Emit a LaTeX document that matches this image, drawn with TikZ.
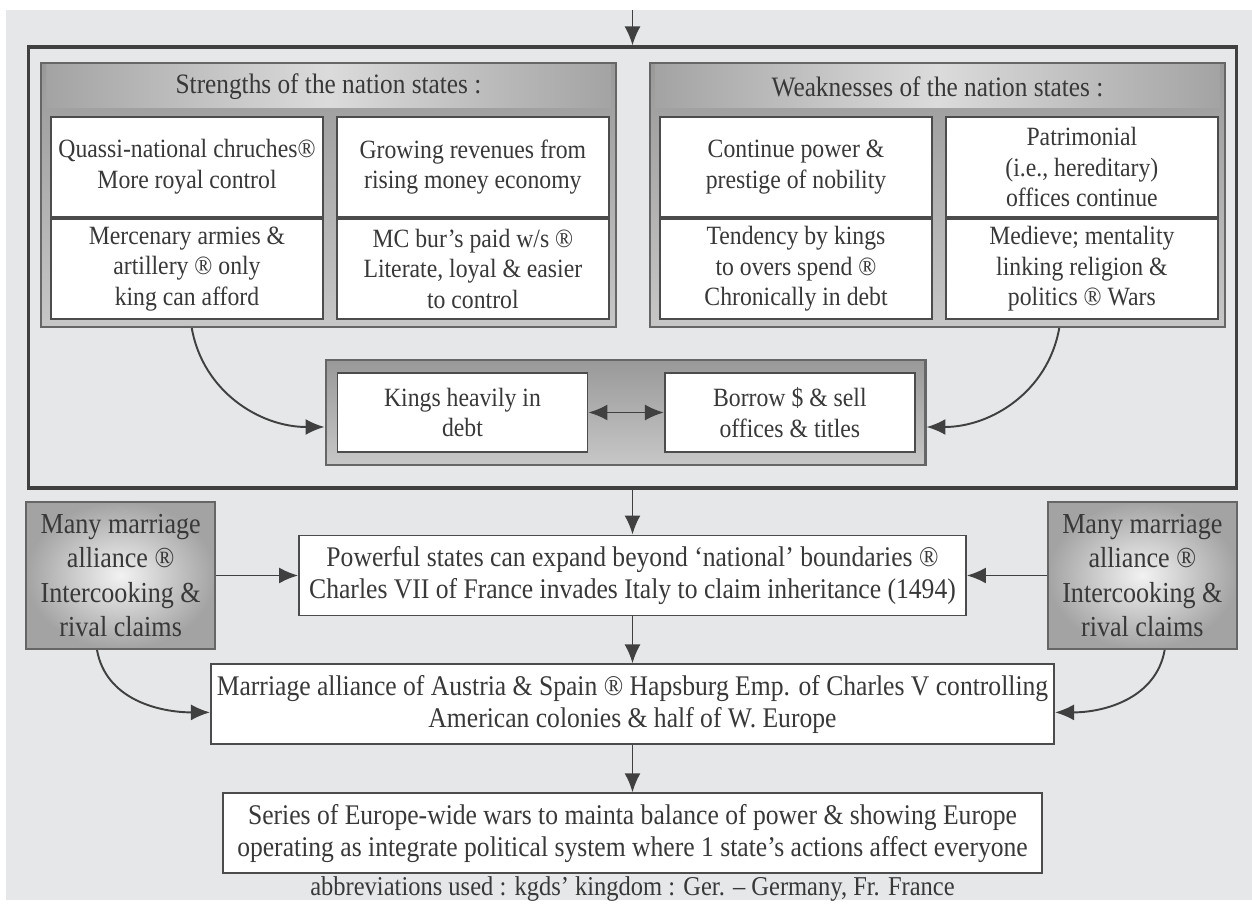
\documentclass[tikz,border=0pt]{standalone}
\usepackage{fontspec}
\setmainfont{Liberation Serif}[FakeStretch=0.9]
\usepackage{xcolor}
\usetikzlibrary{arrows.meta, positioning, calc, shadings}

\definecolor{bgfill}{HTML}{E5E7E9}

\begin{document}
\begin{tikzpicture}[
        x=0.02cm, y=-0.02cm,
        node distance=1cm and 1cm,
        frame/.style={rectangle, draw=black!75, line width=1.8pt},
        panel/.style={rectangle, draw=black!60, line width=1.2pt, top color=black!40, bottom color=black!22, minimum width=11.5cm, minimum height=5.28cm},
        band/.style={rectangle, left color=black!36, right color=black!36, middle color=black!14, minimum width=11.3cm, minimum height=0.86cm, inner sep=0pt, font=\fontsize{16}{18}\selectfont},
        cell/.style={rectangle, draw=black!70, line width=1.1pt, fill=white, minimum width=5.44cm, minimum height=2cm, align=center, inner sep=2pt, font=\fontsize{15}{17.5}\selectfont},
        plainbox/.style={rectangle, draw=black!70, line width=1.1pt, fill=white, minimum height=1.6cm, align=center},
        sidebox/.style={rectangle, draw=black!60, line width=1.1pt, inner color=black!5, outer color=black!36, minimum width=3.78cm, minimum height=2.94cm, align=center, font=\fontsize{16.5}{19.5}\selectfont},
        arrow/.style={-{Latex[length=3.8mm, width=3.2mm]}, line width=1.1pt, draw=black!75},
        dblarrow/.style={{Latex[length=3.8mm, width=3.2mm]}-{Latex[length=3.8mm, width=3.2mm]}, line width=1.1pt, draw=black!75},
        font=\fontsize{16.2}{18}\selectfont,
        text=black!78
    ]

    % Page
    \useasboundingbox (0,0) rectangle (1252,909);
    \fill[white] (0,0) rectangle (1252,909);
    \fill[bgfill] (6,10) rectangle (1252,900);
    \coordinate (entry) at (632.5,10);

    % Upper frame with the two panels
    \node (outer) [frame, minimum width=24.18cm, minimum height=8.82cm] at (632.5,267.5) {};
    \node (strengths) [panel] at (328.5,195) {};
    \node (weaknesses) [panel] at (937.5,195) {};
    \node (str_head) [band, below=0.05cm of strengths.north] {Strengths of the nation states :};
    \node (weak_head) [band, below=0.05cm of weaknesses.north] {Weaknesses of the nation states :};

    \node (str_a) [cell] at (187,167) {Quassi-national chruches®\\More royal control};
    \node (str_b) [cell, right=0.24cm of str_a] {Growing revenues from\\rising money economy};
    \node (str_c) [cell, below=0cm of str_a] {Mercenary armies \&\\artillery ® only\\king can afford};
    \node (str_d) [cell, below=0cm of str_b] {MC bur's paid w/s ®\\Literate, loyal \& easier\\to control};

    \node (weak_a) [cell] at (796,167) {Continue power \&\\prestige of nobility};
    \node (weak_b) [cell, right=0.24cm of weak_a] {Patrimonial\\(i.e., hereditary)\\offices continue};
    \node (weak_c) [cell, below=0cm of weak_a] {Tendency by kings\\to overs spend ®\\Chronically in debt};
    \node (weak_d) [cell, below=0cm of weak_b] {Medieve; mentality\\linking religion \&\\politics ® Wars};

    % Middle panel
    \node (mid_panel) [panel, minimum width=12cm, minimum height=2.1cm] at (625.5,412.5) {};
    \node (kings_debt) [cell, minimum width=5cm, minimum height=1.58cm] at (462.5,412.5) {Kings heavily in\\debt};
    \node (borrow_sell) [cell, minimum width=5cm, minimum height=1.58cm, right=1.51cm of kings_debt] {Borrow \$ \& sell\\offices \& titles};

    % Lower chain
    \node (powerful) [plainbox, minimum width=13.34cm, below=0.9cm of outer] {Powerful states can expand beyond ‘national’ boundaries ®\\Charles VII of France invades Italy to claim inheritance (1494)};
    \node (side_left) [sidebox, left=1.64cm of powerful] {Many marriage\\alliance ®\\Intercooking \&\\rival claims};
    \node (side_right) [sidebox, right=1.6cm of powerful] {Many marriage\\alliance ®\\Intercooking \&\\rival claims};
    \node (marriage) [plainbox, minimum width=16.4cm, below=0.94cm of powerful] {Marriage alliance of Austria \& Spain ® Hapsburg Emp. of Charles V controlling\\American colonies \& half of W. Europe};
    \node (series) [plainbox, minimum width=16.4cm, below=0.94cm of marriage] {Series of Europe-wide wars to mainta balance of power \& showing Europe\\operating as integrate political system where 1 state's actions affect everyone};
    \node (abbrev) [below=0.04cm of series, inner sep=0pt, font=\fontsize{15.5}{17}\selectfont] {abbreviations used : kgds' kingdom : Ger. -- Germany, Fr. France};

    % Arrows - Vertical
    \draw [arrow] (entry) -- (outer.north);
    \draw [arrow] (outer.south) -- (powerful.north);
    \draw [arrow] (powerful) -- (marriage);
    \draw [arrow] (marriage) -- (series);

    % Lateral Arrows
    \draw [dblarrow] (kings_debt) -- (borrow_sell);
    \draw [arrow] (side_left) -- (powerful);
    \draw [arrow] (side_right) -- (powerful);
    \draw [arrow] ($(strengths.south west)!0.263!(strengths.south east)$) to[out=-80, in=180] ([yshift=-0.29cm]mid_panel.west);
    \draw [arrow] ($(weaknesses.south west)!0.711!(weaknesses.south east)$) to[out=-100, in=0] ([yshift=-0.29cm]mid_panel.east);
    \draw [arrow] ($(side_left.south west)!0.376!(side_left.south east)$) to[out=-80, in=180] ([yshift=-0.16cm]marriage.west);
    \draw [arrow] ($(side_right.south west)!0.617!(side_right.south east)$) to[out=-100, in=0] ([yshift=-0.16cm]marriage.east);

\end{tikzpicture}
\end{document}
